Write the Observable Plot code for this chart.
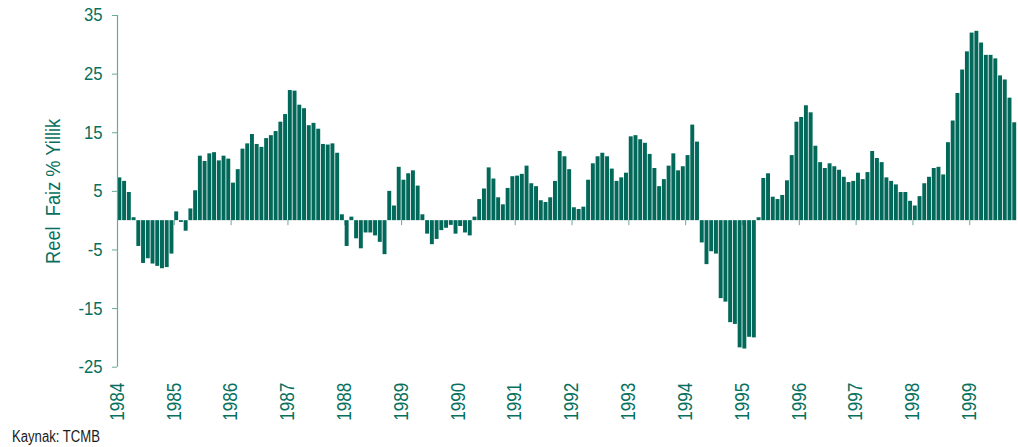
<!DOCTYPE html>
<html><head><meta charset="utf-8">
<script src="https://cdn.jsdelivr.net/npm/d3@7"></script>
<script src="https://cdn.jsdelivr.net/npm/@observablehq/plot@0.6"></script>
<style>
body{margin:0;background:#fff;}
#wrap{position:relative;width:1018px;height:447px;overflow:hidden;}
#cap{position:absolute;left:12px;top:429px;font-size:16px;line-height:16px;font-family:"Liberation Sans",Arial,sans-serif;color:#1a1a1a;white-space:nowrap;transform:scaleX(0.82);transform-origin:0 0;}
</style></head><body><div id="wrap"><div id="cap">Kaynak: TCMB</div></div>
<script>
// Monthly real interest rate (% annual), Jan 1984 – Oct 1999
const years = [1984,1985,1986,1987,1988,1989,1990,1991,1992,1993,1994,1995,1996,1997,1998,1999];
const v1984 = [7.3, 6.7, 4.8, 0.5, -4.4, -7.3, -6.5, -7.4, -7.8, -8.2, -8.0, -5.7];
const v1985 = [1.5, -0.3, -1.8, 2.0, 5.1, 11.0, 10.1, 11.4, 11.6, 10.2, 11.0, 10.5];
const v1986 = [6.4, 8.7, 12.2, 13.1, 14.7, 13.0, 12.5, 14.0, 14.5, 15.2, 16.8, 18.1];
const v1987 = [22.2, 22.1, 19.7, 19.1, 16.2, 16.6, 15.6, 13.0, 12.9, 13.1, 11.5, 1.0];
const v1988 = [-4.4, 0.6, -3.1, -4.8, -2.1, -2.1, -2.6, -3.7, -5.8, 5.0, 2.5, 9.1];
const v1989 = [6.9, 8.0, 8.5, 5.9, 1.0, -2.3, -4.1, -3.2, -1.7, -1.3, -0.8, -2.3];
const v1990 = [-1.0, -2.1, -2.6, 0.6, 3.6, 5.4, 9.0, 7.1, 3.9, 2.7, 5.5, 7.5];
const v1991 = [7.6, 7.9, 9.3, 6.3, 5.8, 3.4, 3.1, 3.9, 6.7, 11.8, 10.9, 8.7];
const v1992 = [2.2, 1.9, 2.3, 6.9, 9.7, 10.9, 11.5, 10.9, 8.8, 6.7, 7.3, 8.1];
const v1993 = [14.3, 14.5, 13.8, 13.2, 11.3, 8.9, 5.8, 7.0, 9.3, 11.4, 8.5, 9.2];
const v1994 = [11.1, 16.3, 13.4, -3.8, -7.5, -5.3, -5.7, -13.3, -13.9, -17.4, -17.7, -21.7];
const v1995 = [-21.9, -19.9, -20.0, 0.5, 7.2, 8.0, 4.0, 3.6, 4.3, 6.8, 11.1, 16.8];
const v1996 = [17.6, 19.6, 18.4, 12.7, 9.9, 8.9, 9.7, 9.2, 8.6, 7.4, 6.5, 6.7];
const v1997 = [8.1, 7.0, 8.2, 11.8, 10.6, 9.9, 7.3, 6.7, 6.1, 4.8, 4.8, 3.3];
const v1998 = [2.5, 4.1, 6.3, 7.4, 8.9, 9.1, 7.8, 13.3, 17.0, 21.7, 25.7, 28.8];
const v1999 = [32.0, 32.3, 30.3, 28.2, 28.2, 27.6, 24.7, 24.0, 20.9, 16.7];
const yTicks = [-25, -15, -5, 5, 15, 25, 35];
const yTitle = "Reel  Faiz % Yillik";

const byYear = [v1984,v1985,v1986,v1987,v1988,v1989,v1990,v1991,v1992,v1993,v1994,v1995,v1996,v1997,v1998,v1999];
const data = [];
byYear.forEach((vals, yi) => vals.forEach((v, m) => data.push({t: years[yi] + m / 12, v})));
const lastT = data[data.length - 1].t + 1 / 12;

const barColor = "#02695a";
const textColor = "#06705e";
const axisColor = "#6aa99b";

const chart = Plot.plot({
  width: 1018,
  height: 447,
  marginLeft: 117,
  marginRight: 1.4,
  marginTop: 15,
  marginBottom: 80.3,
  style: {fontFamily: '"Liberation Sans",Arial,sans-serif', background: "#fff", overflow: "visible"},
  x: {domain: [years[0], lastT], axis: null},
  y: {domain: [yTicks[0], yTicks[yTicks.length - 1]], axis: null},
  marks: [
    Plot.ruleX(years, {x: d => d, y1: 0, y2: 0, insetBottom: -5, stroke: axisColor, strokeWidth: 1}),
    Plot.rectY(data, {x1: "t", x2: d => d.t + 1 / 12, y1: 0, y2: "v", fill: barColor, insetLeft: 0.4, insetRight: 0.4}),
    Plot.ruleX([years[0]], {stroke: axisColor, strokeWidth: 1.2}),
    Plot.axisY({ticks: yTicks, label: null, tickSize: 5, tickPadding: 10, stroke: axisColor, fill: textColor, fontSize: 18.5, tickFormat: d => String(d)}),
    Plot.axisX({ticks: years, label: null, tickFormat: d => String(d), tickRotate: -90, tickSize: 0, tickPadding: 15.5, fill: textColor, fontSize: 19.5}),
    Plot.text([yTitle], {text: d => d, frameAnchor: "left", textAnchor: "middle", rotate: -90, dx: -64, fill: textColor, fontSize: 21})
  ]
});
document.getElementById("wrap").prepend(chart);

// condense text to mimic a narrow typeface
function condense(selector, factor) {
  chart.querySelectorAll(selector).forEach(t => {
    const L = t.getComputedTextLength();
    t.setAttribute("textLength", (L * factor).toFixed(2));
    t.setAttribute("lengthAdjust", "spacingAndGlyphs");
  });
}
condense('g[aria-label="x-axis tick label"] text', 0.88);
condense('g[aria-label="y-axis tick label"] text', 0.9);
condense('g[aria-label="text"] text', 0.87);
</script>
</body></html>
